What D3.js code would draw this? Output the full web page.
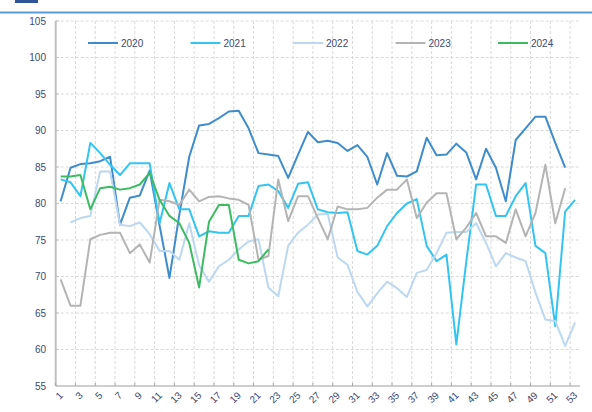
<!DOCTYPE html>
<meta charset="utf-8">
<style>
    body { margin: 0; background: #fff; }
    .grid line { stroke: #d9d9d9; stroke-dasharray: 3,2; stroke-width: 1; }
    .tick-label { font: 10px "Liberation Sans", Arial, sans-serif; fill: #3d4a72; }
    .legend-label { font: 10px "Liberation Sans", Arial, sans-serif; fill: #3d4a72; }
    .series { fill: none; stroke-width: 2; stroke-linejoin: round; }
</style>
<body>
<script src="https://cdnjs.cloudflare.com/ajax/libs/d3/7.8.5/d3.min.js"></script>
<script>
    // weeks 1..53
    var weeks = d3.range(1, 54);
    var yTicks = [55, 60, 65, 70, 75, 80, 85, 90, 95, 100, 105];
    var seriesNames = ["2020", "2021", "2022", "2023", "2024"];
    var seriesColors = ["#3f8ccc", "#33c4f2", "#bcd8f0", "#b4b4b4", "#3dbb63"];

    // values by week, null = no data
    var v2020 = [80.3, 84.9, 85.4, 85.5, 85.8, 86.4, 77.1, 80.8, 81.1, 84.5,
        77.0, 69.8, 78.5, 86.4, 90.7, 90.9, 91.7, 92.6, 92.7, 90.3,
        86.9, 86.7, 86.5, 83.5, 86.7, 89.8, 88.4, 88.6, 88.3, 87.2,
        88.0, 86.4, 82.6, 86.9, 83.8, 83.7, 84.4, 89.0, 86.6, 86.7,
        88.2, 87.0, 83.3, 87.5, 84.9, 80.3, 88.7, 90.3, 91.9, 91.9,
        88.3, 84.9, null];
    var v2021 = [83.3, 82.9, 81.0, 88.3, 86.9, 85.3, 83.9, 85.5, 85.5, 85.5,
        77.3, 82.8, 79.2, 79.2, 75.5, 76.2, 76.0, 76.0, 78.3, 78.3,
        82.4, 82.6, 81.7, 79.4, 82.7, 82.9, 79.2, 78.8, 78.7, 78.8,
        73.5, 73.0, 74.2, 76.9, 78.7, 80.0, 80.6, 74.2, 72.1, 73.0,
        60.7, 72.0, 82.6, 82.6, 78.3, 78.3, 81.0, 82.8, 74.2, 73.2,
        63.2, 78.9, 80.5];
    var v2022 = [null, 77.4, 78.0, 78.3, 84.4, 84.4, 77.1, 76.9, 77.4, 75.8,
        73.5, 73.5, 72.3, 77.3, 71.5, 69.3, 71.4, 72.3, 73.7, 74.8,
        75.1, 68.5, 67.3, 74.2, 76.0, 77.1, 78.5, 78.6, 72.6, 71.6,
        67.9, 65.9, 67.7, 69.3, 68.4, 67.2, 70.5, 70.9, 73.2, 76.0,
        76.1, 76.1, 77.3, 74.6, 71.4, 73.2, 72.6, 72.1, 67.8, 64.1,
        63.9, 60.5, 63.7];
    var v2023 = [69.6, 66.0, 66.0, 75.1, 75.7, 76.0, 76.0, 73.2, 74.4, 71.9,
        80.5, 80.3, 79.8, 81.9, 80.3, 80.9, 81.0, 80.7, 80.5, 79.8,
        72.3, 72.8, 83.3, 77.6, 81.0, 81.0, 78.0, 75.1, 79.6, 79.2,
        79.2, 79.4, 80.8, 81.9, 81.9, 83.3, 78.0, 80.1, 81.4, 81.4,
        75.1, 76.7, 78.7, 75.5, 75.5, 74.6, 79.2, 75.5, 78.7, 85.3,
        77.3, 82.1, null];
    var v2024 = [83.7, 83.7, 83.9, 79.2, 82.1, 82.3, 81.9, 82.1, 82.6, 84.2,
        80.5, 78.3, 77.3, 74.6, 68.5, 77.5, 79.8, 79.8, 72.3, 71.8,
        72.1, 73.7];
    var seriesValues = [v2020, v2021, v2022, v2023, v2024];

    var width = 592, height = 412;
    var plot = { left: 55.7, right: 580, top: 21, bottom: 386 };

    var svg = d3.select("body").append("svg")
        .attr("width", width)
        .attr("height", height);

    // header remnant (title cut off at top)
    svg.append("rect")
        .attr("x", 15).attr("y", 0).attr("width", 23).attr("height", 3)
        .attr("fill", "#2f5597");
    svg.append("line")
        .attr("x1", 0).attr("x2", width)
        .attr("y1", 12.5).attr("y2", 12.5)
        .attr("stroke", "#5b9bd5").attr("stroke-width", 2);

    var x = d3.scaleBand()
        .domain(weeks)
        .range([plot.left, plot.right])
        .padding(0);
    var bw = x.bandwidth();
    var cx = function (w) { return x(w) + bw / 2; };

    var y = d3.scaleLinear()
        .domain([55, 105])
        .range([plot.bottom, plot.top]);

    // gridlines
    var grid = svg.append("g").attr("class", "grid");
    grid.selectAll(".h")
        .data(yTicks.filter(function (d) { return d > 55; }))
        .enter().append("line")
        .attr("x1", plot.left).attr("x2", plot.right)
        .attr("y1", function (d) { return y(d); })
        .attr("y2", function (d) { return y(d); });
    var oddWeeks = weeks.filter(function (w) { return w % 2 === 1; });
    grid.selectAll(".v")
        .data(oddWeeks.filter(function (w) { return w > 1; }))
        .enter().append("line")
        .attr("x1", function (w) { return x(w); })
        .attr("x2", function (w) { return x(w); })
        .attr("y1", plot.top).attr("y2", plot.bottom);

    // axes
    svg.append("line")
        .attr("x1", plot.left).attr("x2", plot.left)
        .attr("y1", plot.top).attr("y2", plot.bottom)
        .attr("stroke", "#bfbfbf").attr("stroke-width", 2);
    svg.append("line")
        .attr("x1", plot.left).attr("x2", plot.right)
        .attr("y1", plot.bottom).attr("y2", plot.bottom)
        .attr("stroke", "#bfbfbf").attr("stroke-width", 1.5);
    svg.selectAll(".ytick")
        .data(yTicks)
        .enter().append("line")
        .attr("x1", plot.left).attr("x2", plot.left + 3)
        .attr("y1", function (d) { return y(d); })
        .attr("y2", function (d) { return y(d); })
        .attr("stroke", "#bfbfbf");
    svg.selectAll(".ylabel")
        .data(yTicks)
        .enter().append("text")
        .attr("class", "tick-label")
        .attr("x", 46)
        .attr("y", function (d) { return y(d); })
        .attr("dy", "0.35em")
        .attr("text-anchor", "end")
        .text(function (d) { return d; });

    svg.selectAll(".xtick")
        .data(oddWeeks)
        .enter().append("line")
        .attr("x1", function (w) { return x(w); })
        .attr("x2", function (w) { return x(w); })
        .attr("y1", plot.bottom - 3).attr("y2", plot.bottom)
        .attr("stroke", "#a6a6a6");
    svg.selectAll(".xlabel")
        .data(oddWeeks)
        .enter().append("text")
        .attr("class", "tick-label")
        .attr("text-anchor", "end")
        .attr("transform", function (w) {
            return "translate(" + (cx(w) + 3) + "," + (plot.bottom + 10) + ") rotate(-45)";
        })
        .text(function (w) { return w; });

    // series lines
    var line = d3.line()
        .defined(function (d) { return d.v != null; })
        .x(function (d) { return cx(d.w); })
        .y(function (d) { return y(d.v); });

    seriesNames.forEach(function (name, i) {
        var pts = seriesValues[i].map(function (v, j) { return { w: weeks[j], v: v }; });
        svg.append("path")
            .datum(pts)
            .attr("class", "series")
            .attr("stroke", seriesColors[i])
            .attr("d", line);
    });

    // legend
    var legend = svg.append("g")
        .selectAll("g")
        .data(seriesNames)
        .enter().append("g")
        .attr("transform", function (d, i) { return "translate(" + (88 + i * 102.5) + ",43)"; });
    legend.append("line")
        .attr("x1", 0).attr("x2", 30)
        .attr("stroke", function (d, i) { return seriesColors[i]; })
        .attr("stroke-width", 2);
    legend.append("text")
        .attr("class", "legend-label")
        .attr("x", 33)
        .attr("dy", "0.35em")
        .text(function (d) { return d; });
</script>
</body>
